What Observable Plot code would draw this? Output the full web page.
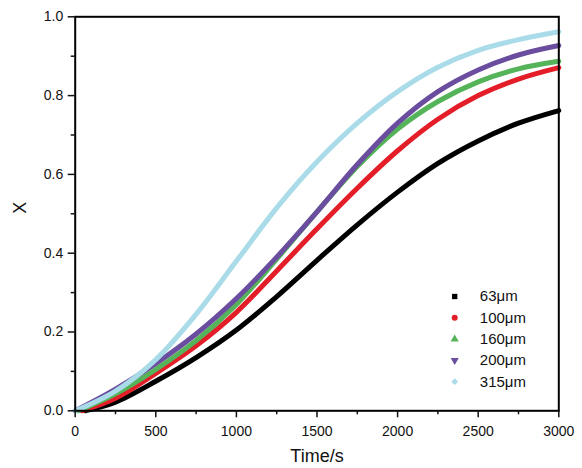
<!DOCTYPE html>
<html>
<head>
<meta charset="utf-8">
<script src="https://cdn.jsdelivr.net/npm/d3@7"></script>
<script src="https://cdn.jsdelivr.net/npm/@observablehq/plot@0.6"></script>
<style>
  html, body { margin: 0; padding: 0; background: #fff; }
  #chart svg { display: block; }
</style>
</head>
<body>
<div id="chart"></div>
<script>
// ---- data ----
const seriesNames = ["63μm", "100μm", "160μm", "200μm", "315μm"];
const onsetTimes  = [60, 40, 20, 0, 0];           // time (s) where each curve leaves X = 0
const times = [250, 500, 750, 1000, 1250, 1500, 1750, 2000, 2250, 2500, 2750, 3000];
const x63  = [0.022, 0.075, 0.135, 0.205, 0.290, 0.382, 0.472, 0.555, 0.628, 0.685, 0.730, 0.762];
const x100 = [0.032, 0.095, 0.165, 0.250, 0.355, 0.462, 0.565, 0.660, 0.740, 0.800, 0.842, 0.871];
const x160 = [0.043, 0.105, 0.178, 0.270, 0.385, 0.505, 0.620, 0.715, 0.785, 0.835, 0.868, 0.887];
const x200 = [0.055, 0.120, 0.195, 0.285, 0.390, 0.505, 0.625, 0.730, 0.810, 0.865, 0.903, 0.927];
const x315 = [0.050, 0.130, 0.245, 0.380, 0.515, 0.632, 0.730, 0.810, 0.872, 0.915, 0.942, 0.962];
const seriesValues = [x63, x100, x160, x200, x315];

const xTicks = [0, 500, 1000, 1500, 2000, 2500, 3000];
const xMinorTicks = [250, 750, 1250, 1750, 2250, 2750];
const yTicks = [0, 0.2, 0.4, 0.6, 0.8, 1.0];
const yMinorTicks = [0.1, 0.3, 0.5, 0.7, 0.9];

// ---- styles ----
const colors = ["#000000", "#e31e28", "#55b35a", "#6a4d9e", "#a9dbe9"];
const triangleDown = {
  draw(context, size) {
    const y = -Math.sqrt(size / (3 * Math.sqrt(3)));
    context.moveTo(0, -y * 2);
    context.lineTo(-Math.sqrt(3) * y, y);
    context.lineTo(Math.sqrt(3) * y, y);
    context.closePath();
  }
};
const symbols = ["square", "circle", "triangle", triangleDown, "diamond2"];

const rows = [];
seriesNames.forEach((name, i) => {
  rows.push({series: name, t: onsetTimes[i], X: 0});
  times.forEach((tt, j) => rows.push({series: name, t: tt, X: seriesValues[i][j]}));
});

const W = 582, H = 468;
const mL = 74.7, mR = 23.7, mT = 16.3, mB = 57.7;
const font = "'Liberation Sans', Arial, sans-serif";

const legendMarks = seriesNames.flatMap((name, i) => [
  Plot.dot([name], {
    frameAnchor: "top-left", dx: 379.5, dy: 279.7 + i * 21.3,
    symbol: () => symbols[i], r: 3, fill: colors[i], stroke: "none"
  }),
  Plot.text([name], {
    frameAnchor: "top-left", dx: 404.6, dy: 279.7 + i * 21.3,
    text: d => d, textAnchor: "start", lineAnchor: "middle",
    fontSize: 15, fill: "#111"
  })
]);

const chart = Plot.plot({
  width: W, height: H,
  marginLeft: mL, marginRight: mR, marginTop: mT, marginBottom: mB,
  style: {fontFamily: font, background: "#fff", color: "#111"},
  x: {domain: [0, 3000]},
  y: {domain: [0, 1]},
  marks: [
    ...seriesNames.map((name, i) =>
      Plot.line(rows.filter(d => d.series === name), {
        x: "t", y: "X", stroke: colors[i], strokeWidth: 5, curve: "catmull-rom"
      })
    ),
    Plot.frame({stroke: "#000", strokeWidth: 2}),
    Plot.axisX({ticks: xTicks, tickSize: 7, tickPadding: 8, fontSize: 14,
      tickFormat: d => String(d), label: null, strokeWidth: 1.5}),
    Plot.axisX({ticks: xMinorTicks, tickSize: 4, text: null, label: null, strokeWidth: 1.5}),
    Plot.axisY({ticks: yTicks, tickSize: 7, tickPadding: 5, fontSize: 14,
      tickFormat: d3.format(".1f"), label: null, strokeWidth: 1.5}),
    Plot.axisY({ticks: yMinorTicks, tickSize: 4, text: null, label: null, strokeWidth: 1.5}),
    Plot.text(["Time/s"], {frameAnchor: "bottom", dy: 45, fontSize: 18, lineAnchor: "middle", fill: "#111"}),
    Plot.text(["X"], {frameAnchor: "left", dx: -55, rotate: -90, fontSize: 18, lineAnchor: "middle", fill: "#111"}),
    ...legendMarks
  ]
});
document.getElementById("chart").appendChild(chart);
</script>
</body>
</html>
